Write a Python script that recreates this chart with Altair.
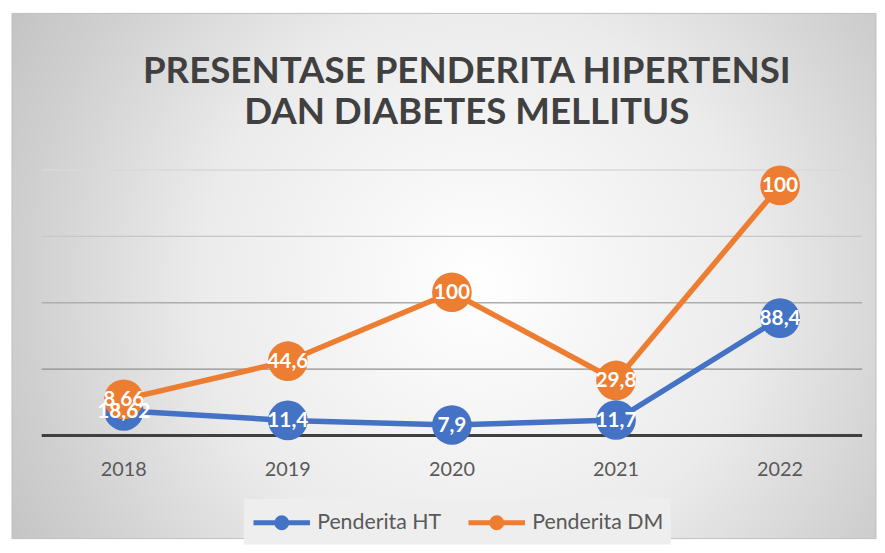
import altair as alt
import pandas as pd

years = ["2018", "2019", "2020", "2021", "2022"]
series_names = ["Penderita HT", "Penderita DM"]
ht_values = [18.62, 11.4, 7.9, 11.7, 88.4]
dm_values = [8.66, 44.6, 100, 29.8, 100]
series_colors = ["#4472C4", "#ED7D31"]
title_lines = ["PRESENTASE PENDERITA HIPERTENSI", "DAN DIABETES MELLITUS"]
grid_values = [50, 100, 150, 200]
grid_colors = ["#8f8f8f", "#adadad", "#c6c6c6", "#d9d9d9"]
baseline_value = [0]

rows = []
for s_idx, (name, vals) in enumerate(zip(series_names, [ht_values, dm_values])):
    for yr, v in zip(years, vals):
        rows.append({"year": yr, "series": name, "value": v, "order": s_idx,
                     "label": f"{v:g}".replace(".", ",")})
df = pd.DataFrame(rows)
grid_df = pd.DataFrame({"gv": grid_values})
base_df = pd.DataFrame({"b": baseline_value})

W, H = 828, 268

bg_gradient = {
    "gradient": "radial",
    "x1": 0.538, "y1": 0.509, "r1": 0,
    "x2": 0.538, "y2": 0.509, "r2": 0.62,
    "stops": [
        {"offset": 0, "color": "#ffffff"},
        {"offset": 0.52, "color": "#ebebeb"},
        {"offset": 0.84, "color": "#d0d0d0"},
        {"offset": 1, "color": "#c4c4c4"},
    ],
}

background = alt.Chart(alt.Data(values=[{"bg": 1}])).mark_rect(
    fill=bg_gradient, stroke="#bfbfbf", strokeWidth=1
).encode(
    x=alt.value(-30), x2=alt.value(842), y=alt.value(-158), y2=alt.value(372)
)

y_scale = alt.Scale(domain=[0, 200], nice=False)

grid = alt.Chart(grid_df).mark_rule(strokeWidth=1.3).encode(
    y=alt.Y("gv:Q", scale=y_scale, axis=None),
    stroke=alt.Stroke("gv:O", scale=alt.Scale(domain=grid_values, range=grid_colors),
                      legend=None),
)
baseline = alt.Chart(base_df).mark_rule(color="#404040", strokeWidth=3).encode(
    y=alt.Y("b:Q", scale=y_scale, axis=None)
)

x_enc = alt.X(
    "year:N",
    sort=years,
    scale=alt.Scale(type="band", paddingInner=0, paddingOuter=0),
    axis=alt.Axis(
        title=None, ticks=False, domain=False, zindex=1,
        labelFont="Lato", labelFontSize=20, labelColor="#595959", labelPadding=24,
        labelAngle=0, grid=False,
    ),
)
y_enc = alt.Y("y1:Q", scale=y_scale, axis=None)

legend_path = ("M-1,0L3,0M0.65,0A0.35,0.35,0,1,1,1.35,0"
               "A0.35,0.35,0,1,1,0.65,0Z")

color_enc = alt.Color(
    "series:N",
    scale=alt.Scale(domain=series_names, range=series_colors),
    legend=alt.Legend(
        orient="none", legendX=204, legendY=332, direction="horizontal",
        title=None, labelFont="Lato", labelFontSize=21.5, labelColor="#595959",
        symbolType=legend_path, symbolSize=812, symbolStrokeWidth=5,
        labelOffset=33, columnPadding=16, padding=7, fillColor="#eeeeee",
    ),
)

base = alt.Chart(df).transform_stack(
    stack="value", groupby=["year"], as_=["y0", "y1"],
    sort=[alt.SortField("order", order="ascending")],
)

lines = base.mark_line(strokeWidth=5.5).encode(x=x_enc, y=y_enc, color=color_enc)
points = base.mark_circle(size=1600, opacity=1).encode(
    x=x_enc, y=y_enc, color=color_enc
)
labels = base.mark_text(
    font="Lato", fontSize=21, fontWeight="bold", color="white",
    baseline="middle", align="center", dy=1,
).encode(x=x_enc, y=y_enc, text="label:N")

chart = alt.layer(background, grid, baseline, lines, points, labels).properties(
    width=W, height=H,
    padding={"left": 3, "top": 2, "right": 0, "bottom": 0},
    title=alt.TitleParams(
        text=title_lines, font="Lato", fontSize=37, fontWeight="bold",
        color="#404040", lineHeight=41, anchor="middle", baseline="bottom",
        offset=-157, dx=15,
    ),
).configure_view(stroke=None)

chart.save("out.html", embed_options={"renderer": "svg", "actions": False})
